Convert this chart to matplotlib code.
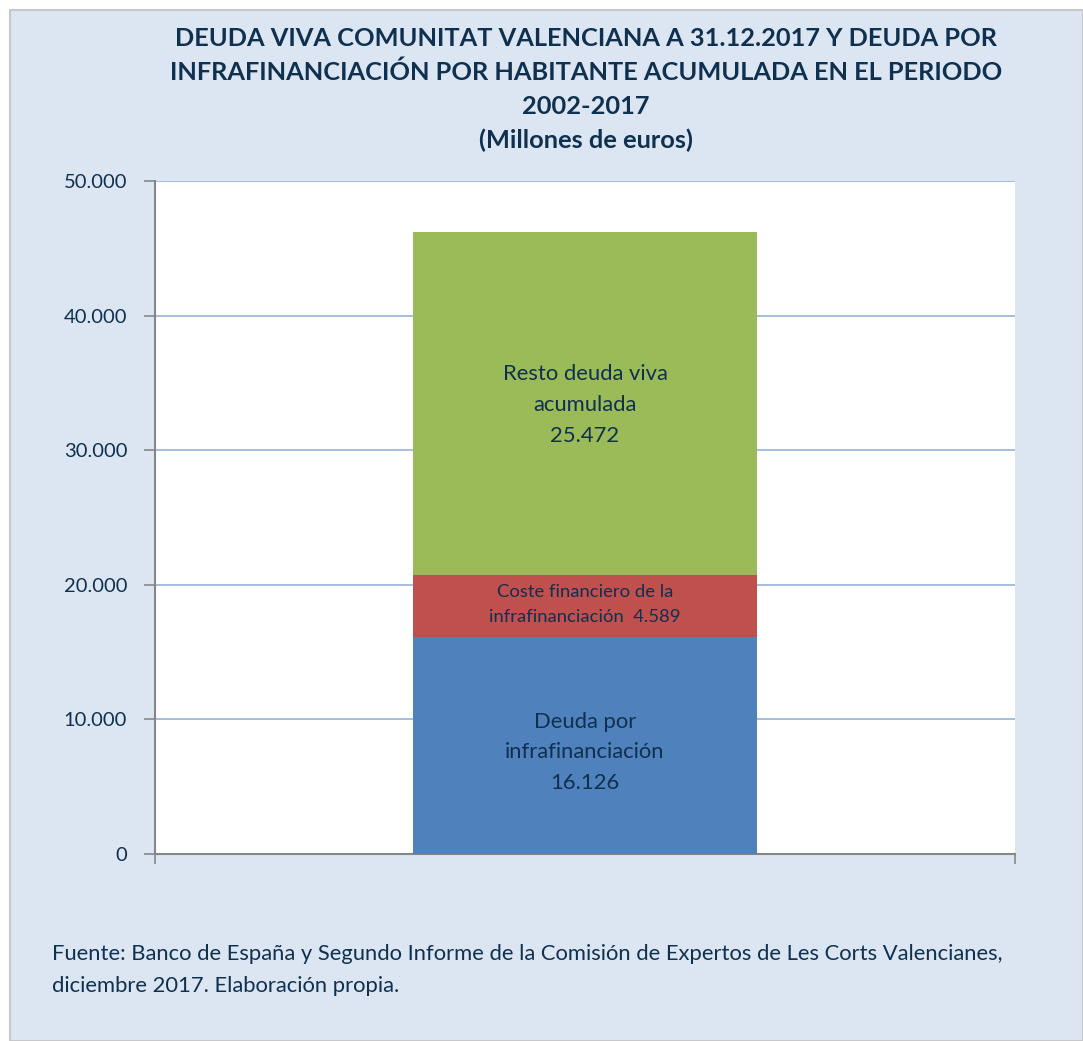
import matplotlib.pyplot as plt
from matplotlib.patches import Rectangle
from matplotlib.ticker import FuncFormatter

# Data (millones de euros)
segments = ['Deuda por\ninfrafinanciación', 'Coste financiero de la\ninfrafinanciación ', 'Resto deuda viva\nacumulada']
values = [16126, 4589, 25472]
colors = ['#4f81bd', '#c0504d', '#9bbb59']
yticks = [0, 10000, 20000, 30000, 40000, 50000]

text_col = '#10304f'
bg_col = '#dce6f2'

plt.rcParams['font.family'] = ['Lato', 'DejaVu Sans']

fig = plt.figure(figsize=(10.83, 10.41), dpi=100)
fig.patch.set_facecolor('white')
# outer chart area with thin border
fig.patches.append(Rectangle((10 / 1083, 0), 1 - 10 / 1083, 1 - 10 / 1041, transform=fig.transFigure,
                             facecolor=bg_col, edgecolor='#c8c8c8', linewidth=1.5, zorder=-1))

ax = fig.add_axes([155 / 1083, 1 - 854 / 1041, 860 / 1083, 673 / 1041])
ax.set_facecolor('white')

def fmt(v):
    return f'{v:,.0f}'.replace(',', '.')

bottom = 0
for i, (lab, v, c) in enumerate(zip(segments, values, colors)):
    ax.bar(0, v, width=0.4, bottom=bottom, color=c, zorder=3)
    mid = bottom + v / 2
    if i == 1:
        ax.annotate(lab + ' ' + fmt(v), (0, mid), xytext=(0, 1), textcoords='offset points',
                    ha='center', va='center', fontsize=13.3, color=text_col, zorder=4, linespacing=1.7)
    else:
        dy = -5 if i == 0 else -1
        ax.annotate(lab + '\n' + fmt(v), (0, mid), xytext=(0, dy), textcoords='offset points',
                    ha='center', va='center', fontsize=15.8, color=text_col, zorder=4, linespacing=1.68)
    bottom += v

ax.set_xlim(-0.5, 0.5)
ax.set_ylim(0, 50000)
ax.set_yticks(yticks)
ax.yaxis.set_major_formatter(FuncFormatter(lambda v, p: fmt(v)))
ax.grid(axis='y', color='#95b3d7', linewidth=1.2, zorder=1)
ax.set_xticks([-0.5, 0.5])
ax.set_xticklabels(['', ''])
ax.tick_params(axis='y', labelsize=14.5, labelcolor=text_col, color='#868686', length=8, width=1.2, pad=12)
ax.tick_params(axis='x', color='#868686', length=7, width=1.2)
for s in ['top', 'right']:
    ax.spines[s].set_visible(False)
for s in ['left', 'bottom']:
    ax.spines[s].set_color('#868686')
    ax.spines[s].set_linewidth(1.5)

title = ('DEUDA VIVA COMUNITAT VALENCIANA A 31.12.2017 Y DEUDA POR\n'
         'INFRAFINANCIACIÓN POR HABITANTE ACUMULADA EN EL PERIODO\n'
         '2002-2017\n(Millones de euros)')
fig.text(586 / 1083, 1 - 27 / 1041, title, ha='center', va='top', fontsize=18.3, fontweight='bold',
         color=text_col, linespacing=1.55)

fig.text(52 / 1083, 1 - 970 / 1041,
         'Fuente: Banco de España y Segundo Informe de la Comisión de Expertos de Les Corts Valencianes,\n'
         'diciembre 2017. Elaboración propia.',
         ha='left', va='center', fontsize=15.8, color=text_col, linespacing=1.7)

fig.savefig('out.png', dpi=100, facecolor=fig.get_facecolor())
